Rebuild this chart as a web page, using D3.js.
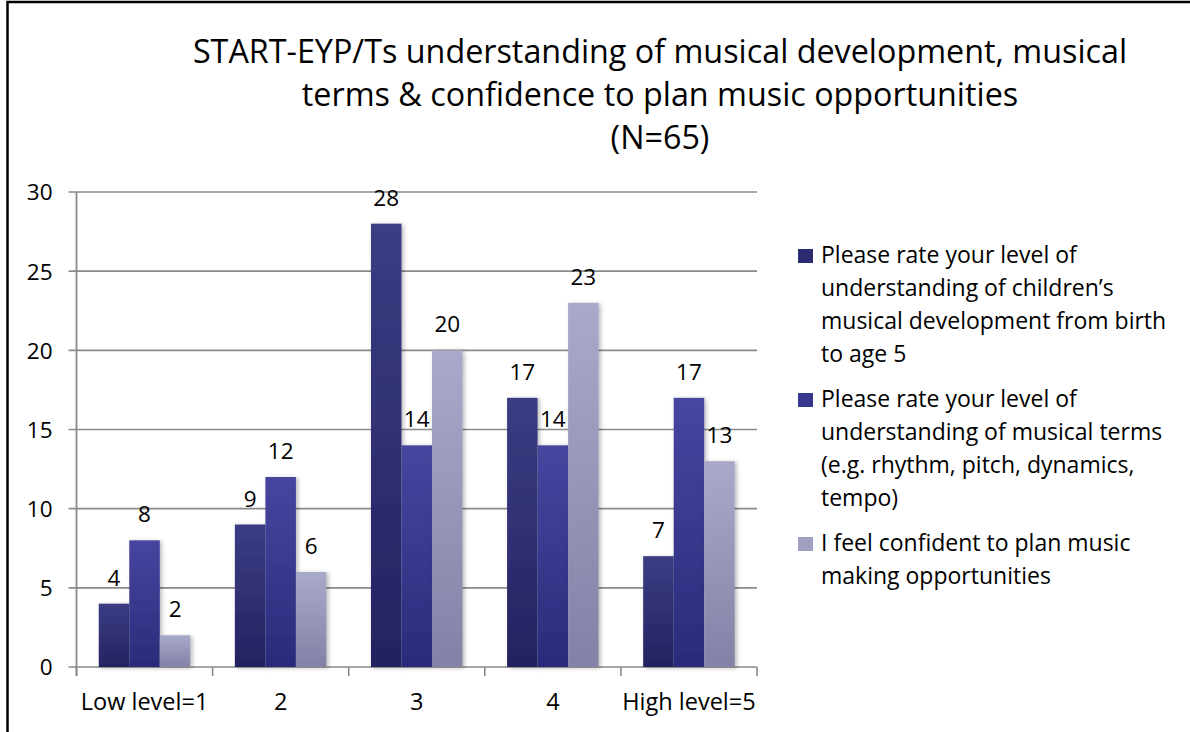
<!DOCTYPE html>
<html>
<head>
<meta charset="utf-8">
<script src="https://cdn.jsdelivr.net/npm/d3@7"></script>
<style>
  html, body { margin: 0; padding: 0; background: #fff; }
  svg { display: block; }
  text { font-family: "Open Sans", Lato, sans-serif; fill: #000; }
</style>
</head>
<body>
<svg id="chart" width="1190" height="732"></svg>
<script>
// ---- data ----
const categories = ["Low level=1", "2", "3", "4", "High level=5"];
const seriesNames = [
  "Please rate your level of understanding of children\u2019s musical development from birth to age 5",
  "Please rate your level of understanding of musical terms (e.g. rhythm, pitch, dynamics, tempo)",
  "I feel confident to plan music making opportunities"
];
const legendLines = [
  ["Please rate your level of", "understanding of children\u2019s", "musical development from birth", "to age 5"],
  ["Please rate your level of", "understanding of musical terms", "(e.g. rhythm, pitch, dynamics,", "tempo)"],
  ["I feel confident to plan music", "making opportunities"]
];
const developmentValues = [4, 9, 28, 17, 7];
const termsValues = [8, 12, 14, 14, 17];
const confidenceValues = [2, 6, 20, 23, 13];
const seriesValues = [developmentValues, termsValues, confidenceValues];
const yTicks = [0, 5, 10, 15, 20, 25, 30];
const titleLines = [
  "START-EYP/Ts understanding of musical development, musical",
  "terms & confidence to plan music opportunities",
  "(N=65)"
];

(function () {
// ---- styles ----
const gradStops = [
  ["#3c3c84", "#232361"],
  ["#4646a0", "#2b2b7b"],
  ["#a9a9c9", "#8282a7"]
];
const swatchColors = ["#2c2c70", "#37378f", "#a0a0c2"];

const svg = d3.select("#chart");
const defs = svg.append("defs");
gradStops.forEach((s, i) => {
  const g = defs.append("linearGradient").attr("id", "g" + i)
    .attr("x1", 0).attr("y1", 0).attr("x2", 0).attr("y2", 1);
  g.append("stop").attr("offset", "0%").attr("stop-color", s[0]);
  g.append("stop").attr("offset", "100%").attr("stop-color", s[1]);
});
const f = defs.append("filter").attr("id", "shadow")
  .attr("x", "-20%").attr("y", "-5%").attr("width", "150%").attr("height", "115%");
f.append("feDropShadow").attr("dx", 2).attr("dy", 1).attr("stdDeviation", 2)
  .attr("flood-color", "#000").attr("flood-opacity", 0.28);

// outer frame
svg.append("rect").attr("x", 7.5).attr("y", 2).attr("width", 1200).attr("height", 760)
  .attr("fill", "none").attr("stroke", "#000").attr("stroke-width", 2.5);

// title
svg.append("g").selectAll("text").data(titleLines).join("text")
  .attr("x", 660).attr("y", (d, i) => 63 + i * 43)
  .attr("text-anchor", "middle")
  .style("font-size", "32.3px")
  .text(d => d);

const pLeft = 76.5, pRight = 757, pTop = 192, pBottom = 667;
const x = d3.scaleBand().domain(categories).range([pLeft, pRight]).paddingInner(0).paddingOuter(0);
const x1 = d3.scaleBand().domain(d3.range(3)).range([0, x.bandwidth()]).paddingInner(0).paddingOuter(0.73);
const y = d3.scaleLinear().domain([0, 30]).range([pBottom, pTop]);

// gridlines
svg.append("g").selectAll("line").data(yTicks).join("line")
  .attr("x1", pLeft - 8).attr("x2", pRight)
  .attr("y1", d => y(d)).attr("y2", d => y(d))
  .attr("stroke", "#8a8a8a").attr("stroke-width", 1.6);

// y axis
const yAxis = d3.axisLeft(y).tickValues(yTicks).tickSize(0).tickPadding(16);
const yg = svg.append("g").attr("transform", `translate(${pLeft - 8},0)`).call(yAxis);
yg.select(".domain").remove();
yg.selectAll("text").style("font-size", "22.5px").style("font-family", "'Open Sans', sans-serif").attr("fill", "#000").attr("dy", "0.35em");
svg.append("line").attr("x1", pLeft).attr("x2", pLeft).attr("y1", pTop).attr("y2", pBottom + 9)
  .attr("stroke", "#8a8a8a").attr("stroke-width", 1.8);

// x axis
const xTickPos = categories.map(c => x(c)).concat([pRight]);
svg.append("g").selectAll("line").data(xTickPos).join("line")
  .attr("x1", d => d).attr("x2", d => d).attr("y1", pBottom).attr("y2", pBottom + 9)
  .attr("stroke", "#8a8a8a").attr("stroke-width", 1.6);
svg.append("g").selectAll("text").data(categories).join("text")
  .attr("x", d => x(d) + x.bandwidth() / 2).attr("y", 710)
  .attr("text-anchor", "middle").style("font-size", "23.5px")
  .text(d => d);

// bars
const groups = svg.append("g").selectAll("g").data(categories).join("g")
  .attr("transform", d => `translate(${x(d)},0)`);
seriesValues.forEach((vals, si) => {
  groups.append("rect")
    .attr("x", x1(si)).attr("width", x1.bandwidth())
    .attr("y", (d, ci) => y(vals[ci]))
    .attr("height", (d, ci) => y(0) - y(vals[ci]))
    .attr("fill", `url(#g${si})`)
    .attr("filter", "url(#shadow)");
});
seriesValues.forEach((vals, si) => {
  groups.append("text")
    .attr("x", x1(si) + x1.bandwidth() / 2)
    .attr("y", (d, ci) => y(vals[ci]) - 18)
    .attr("text-anchor", "middle").style("font-size", "22.5px")
    .text((d, ci) => vals[ci]);
});

// legend
const legendTop = [263, 407, 551];
const lg = svg.append("g");
legendLines.forEach((lines, i) => {
  lg.append("rect").attr("x", 798).attr("y", legendTop[i] - 14).attr("width", 15).attr("height", 14)
    .attr("fill", swatchColors[i]);
  lg.append("g").selectAll("text").data(lines).join("text")
    .attr("x", 821).attr("y", (d, j) => legendTop[i] + j * 33)
    .style("font-size", "23px")
    .text(d => d);
});
})();
</script>
</body>
</html>
